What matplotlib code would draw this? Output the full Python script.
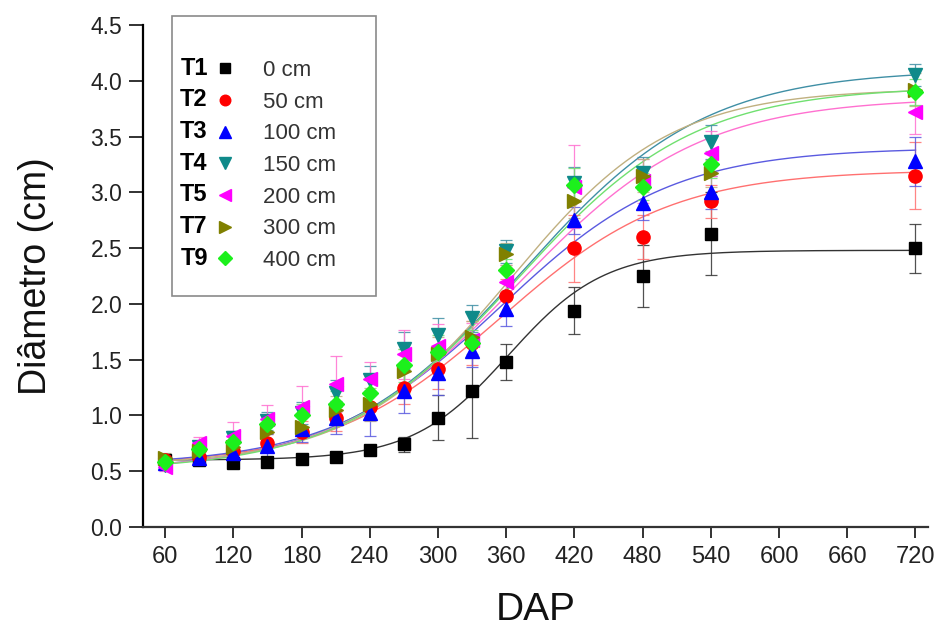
import matplotlib
matplotlib.use("Agg")
import matplotlib.pyplot as plt
from matplotlib.patches import Rectangle
import numpy as np

plt.rcParams['font.family'] = ['Liberation Sans', 'DejaVu Sans']

# dias apos o plantio
dap = [60, 90, 120, 150, 180, 210, 240, 270, 300, 330, 360, 420, 480, 540, 720]

tratamentos = ['T1', 'T2', 'T3', 'T4', 'T5', 'T7', 'T9']
distancias = ['0 cm', '50 cm', '100 cm', '150 cm', '200 cm', '300 cm', '400 cm']

t1 = [0.60, 0.60, 0.57, 0.58, 0.61, 0.63, 0.69, 0.74, 0.98, 1.22, 1.48, 1.94, 2.25, 2.63, 2.50]
t2 = [0.60, 0.63, 0.68, 0.75, 0.85, 0.98, 1.08, 1.25, 1.42, 1.65, 2.07, 2.50, 2.60, 2.92, 3.15]
t3 = [0.57, 0.62, 0.66, 0.73, 0.88, 0.98, 1.02, 1.22, 1.38, 1.58, 1.95, 2.75, 2.90, 3.00, 3.28]
t4 = [0.56, 0.72, 0.80, 0.95, 1.02, 1.20, 1.32, 1.60, 1.72, 1.87, 2.47, 3.08, 3.17, 3.45, 4.05]
t5 = [0.54, 0.75, 0.82, 0.97, 1.08, 1.28, 1.33, 1.55, 1.62, 1.68, 2.20, 3.05, 3.10, 3.35, 3.72]
t7 = [0.62, 0.68, 0.72, 0.85, 0.90, 1.05, 1.10, 1.40, 1.55, 1.70, 2.45, 2.92, 3.15, 3.17, 3.92]
t9 = [0.58, 0.70, 0.76, 0.92, 1.00, 1.10, 1.20, 1.45, 1.57, 1.65, 2.30, 3.07, 3.05, 3.25, 3.90]

# desvios
e1 = [0.03, 0.03, 0.03, 0.03, 0.03, 0.03, 0.04, 0.07, 0.20, 0.42, 0.16, 0.21, 0.28, 0.37, 0.22]
e2 = [0.03, 0.05, 0.06, 0.08, 0.10, 0.12, 0.12, 0.15, 0.18, 0.20, 0.15, 0.30, 0.20, 0.15, 0.30]
e3 = [0.04, 0.05, 0.06, 0.10, 0.12, 0.15, 0.20, 0.20, 0.20, 0.15, 0.15, 0.12, 0.15, 0.15, 0.22]
e4 = [0.04, 0.05, 0.06, 0.08, 0.10, 0.12, 0.12, 0.15, 0.15, 0.12, 0.10, 0.15, 0.15, 0.15, 0.10]
e5 = [0.04, 0.06, 0.12, 0.12, 0.18, 0.25, 0.15, 0.22, 0.20, 0.15, 0.15, 0.37, 0.20, 0.20, 0.20]
e7 = [0.04, 0.05, 0.06, 0.08, 0.10, 0.12, 0.15, 0.20, 0.15, 0.15, 0.10, 0.15, 0.15, 0.12, 0.15]
e9 = [0.04, 0.05, 0.06, 0.08, 0.10, 0.12, 0.12, 0.15, 0.15, 0.12, 0.10, 0.15, 0.12, 0.12, 0.12]

# parametros do ajuste Boltzmann (A1, A2, x0, dx)
ajustes = [(0.60, 2.48, 362, 42),
           (0.55, 3.20, 355, 75),
           (0.55, 3.40, 355, 75),
           (0.50, 4.10, 375, 80),
           (0.50, 3.85, 370, 80),
           (0.55, 3.93, 365, 70),
           (0.50, 3.95, 370, 78)]

medias = [t1, t2, t3, t4, t5, t7, t9]
desvios = [e1, e2, e3, e4, e5, e7, e9]
cores = ['#000000', '#ff0000', '#0000ff', '#0f8a8a', '#ff00ff', '#808000', '#1cf01c']
cores_linha = ['#333333', '#ff7070', '#5a5ae0', '#3f8fa5', '#ff70d0', '#c0b080', '#70e070']
marcadores = ['s', 'o', '^', 'v', '<', '>', 'D']
tamanhos = [9, 9.5, 10.5, 10.5, 10.5, 10.5, 8.5]


def boltzmann(x, a1, a2, x0, dx):
    return a2 + (a1 - a2) / (1 + np.exp((x - x0) / dx))


fig = plt.figure(figsize=(9.41, 6.32), dpi=100)
ax = fig.add_axes([143/941, 1-527/632, (928-143)/941, (527-25)/632])

xs = np.linspace(60, 720, 400)
handles = []
for i in range(len(medias)):
    ax.plot(xs, boltzmann(xs, *ajustes[i]), color=cores_linha[i], lw=1.0, zorder=2)
    ax.errorbar(dap, medias[i], yerr=desvios[i], fmt='none', ecolor=cores_linha[i],
                elinewidth=0.9, capsize=4, capthick=0.9, alpha=0.85, zorder=3)
    h, = ax.plot(dap, medias[i], linestyle='none', marker=marcadores[i], ms=tamanhos[i],
                 color=cores[i], mec=cores[i], zorder=4)
    handles.append(h)

ax.set_xlim(40.6, 731)
ax.set_ylim(0, 4.5)
ax.set_xticks(range(60, 721, 60))
ax.set_yticks(np.arange(0, 4.51, 0.5))
ax.set_yticklabels(['%.1f' % v for v in np.arange(0, 4.51, 0.5)])
ax.spines['top'].set_visible(False)
ax.spines['right'].set_visible(False)
ax.spines['left'].set_linewidth(1.6)
ax.spines['bottom'].set_linewidth(1.6)
ax.spines['bottom'].set_color('#333333')
ax.tick_params(axis='x', direction='out', length=8, width=1.3, labelsize=17, pad=6,
               colors='#222222')
ax.tick_params(axis='y', direction='out', length=10, width=1.3, labelsize=16.5, pad=5,
               colors='#222222')
ax.set_xlabel('DAP', fontsize=28, labelpad=17, color='#111111')
ax.set_ylabel('Diâmetro (cm)', fontsize=27, labelpad=26, color='#111111')

# legenda
leg = fig.legend(handles, distancias, loc='upper left',
                 bbox_to_anchor=(205/941, 1-49/632), bbox_transform=fig.transFigure,
                 frameon=False, borderpad=0, handlelength=0.8, handletextpad=1.3,
                 labelspacing=0.48, markerscale=0.8, numpoints=1,
                 prop={'family': 'Liberation Sans', 'size': 16})
for t in leg.get_texts():
    t.set_color('#333333')

fig.add_artist(Rectangle((172/941, 1-296/632), (376-172)/941, (296-16)/632,
                         transform=fig.transFigure, fill=False, edgecolor='#8a8a8a', lw=1.2))

fig.canvas.draw()
r = fig.canvas.get_renderer()
W, H = fig.bbox.width, fig.bbox.height
for h, nome in zip(leg.legend_handles, tratamentos):
    bb = h.get_window_extent(r)
    fig.text((bb.x0 - 3) / W, (bb.y0 + bb.y1) / 2 / H, nome, ha='right', va='center',
             fontsize=17, fontweight='bold', color='black')

fig.savefig('out.png', dpi=100)
